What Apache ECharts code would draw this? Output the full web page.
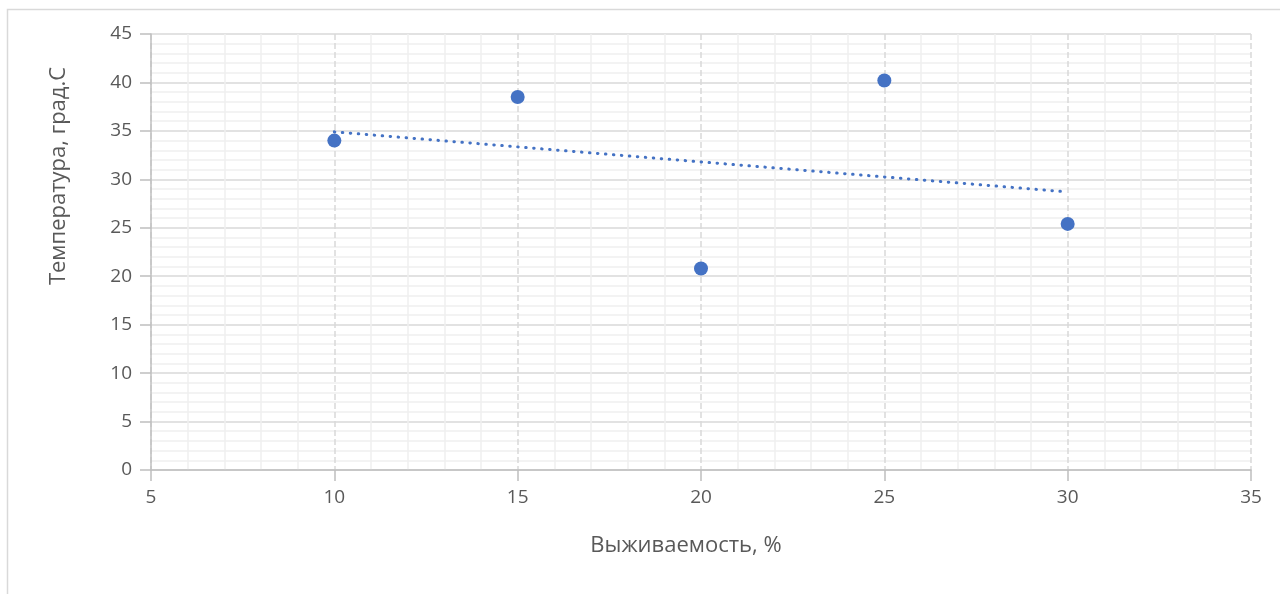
<!DOCTYPE html>
<html>
<head>
<meta charset="utf-8">
<script src="https://cdn.jsdelivr.net/npm/echarts@6/dist/echarts.min.js"></script>
<style>
html,body{margin:0;padding:0;background:#fff;}
#chart{width:1280px;height:594px;}
</style>
</head>
<body>
<div id="chart"></div>
<script>
// Data
const survival = [10, 15, 20, 25, 30];          // Выживаемость, %
const temperature = [34, 38.5, 20.8, 40.2, 25.4]; // Температура, град.С
const trendX = [10, 30];                         // linear trendline ends
const trendY = [34.9, 28.7];
const xTitle = 'Выживаемость, %';
const yTitle = 'Температура, град.С';

const FONT = '"Open Sans", sans-serif';
const TXT = '#595959';
const chart = echarts.init(document.getElementById('chart'), null, {renderer: 'canvas'});

const points = survival.map((x, i) => [x, temperature[i]]);
const trend = trendX.map((x, i) => [x, trendY[i]]);

chart.setOption({
  animation: false,
  backgroundColor: '#fff',
  graphic: [{
    type: 'rect',
    shape: {x: 7.5, y: 9.5, width: 1300, height: 620},
    style: {fill: 'none', stroke: '#d9d9d9', lineWidth: 1.5},
    silent: true
  }, {
    type: 'text',
    x: 686, y: 546,
    style: {text: xTitle, fill: TXT, font: '22px ' + FONT, align: 'center', verticalAlign: 'middle'},
    silent: true
  }, {
    type: 'text',
    x: 59, y: 176, rotation: Math.PI / 2,
    style: {text: yTitle, fill: TXT, font: '22px ' + FONT, align: 'center', verticalAlign: 'middle'},
    silent: true
  }],
  grid: {left: 151, right: 29, top: 34, bottom: 124, containLabel: false},
  xAxis: {
    type: 'value', min: 5, max: 35, interval: 5,
    axisLine: {show: true, onZero: false, lineStyle: {color: '#bfbfbf', width: 1.5}},
    axisTick: {show: true, length: 11, lineStyle: {color: '#bfbfbf', width: 1.5}},
    axisLabel: {color: TXT, fontFamily: FONT, fontSize: 19, margin: 18},
    splitLine: {show: true, lineStyle: {color: '#d9d9d9', width: 1.5, type: [6, 3]}},
    minorTick: {show: false, splitNumber: 5},
    minorSplitLine: {show: true, lineStyle: {color: '#f0f0f0', width: 1.5}}
  },
  yAxis: {
    type: 'value', min: 0, max: 45, interval: 5,
    axisLine: {show: true, onZero: false, lineStyle: {color: '#bfbfbf', width: 1.5}},
    axisTick: {show: true, length: 11, lineStyle: {color: '#bfbfbf', width: 1.5}},
    axisLabel: {color: TXT, fontFamily: FONT, fontSize: 19, margin: 19},
    splitLine: {show: true, lineStyle: {color: '#d9d9d9', width: 1.5}},
    minorTick: {show: false, splitNumber: 5},
    minorSplitLine: {show: true, lineStyle: {color: '#f0f0f0', width: 1.5}}
  },
  series: [{
    type: 'line',
    data: trend,
    showSymbol: false,
    symbol: 'none',
    lineStyle: {color: '#4472C4', width: 3, type: [0.5, 7.5], cap: 'round'},
    z: 2
  }, {
    type: 'scatter',
    data: points,
    symbol: 'circle',
    symbolSize: 14,
    itemStyle: {color: '#4472C4', opacity: 1},
    z: 3
  }]
});
</script>
</body>
</html>
